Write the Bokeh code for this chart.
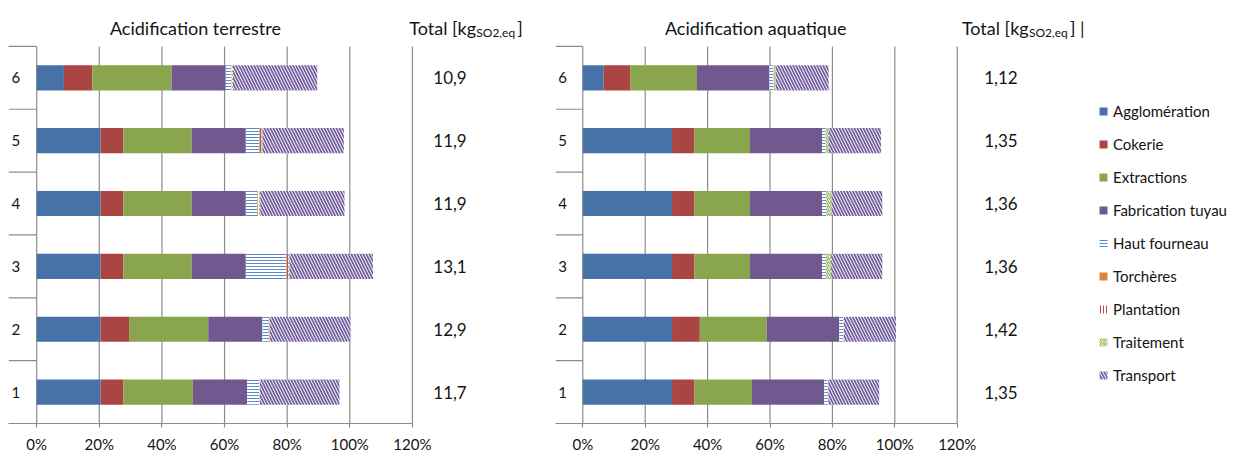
import numpy as np
from bokeh.plotting import figure
from bokeh.models import Range1d, FixedTicker, Legend, LegendItem, ColumnDataSource
from bokeh.layouts import row
from bokeh.embed import file_html
from bokeh.resources import INLINE
from bokeh.core.properties import value

# ---------------- data ----------------
categories = ["1", "2", "3", "4", "5", "6"]
series = ["Agglomération", "Cokerie", "Extractions", "Fabrication tuyau",
          "Haut fourneau", "Torchères", "Plantation", "Traitement", "Transport"]

# Acidification terrestre (% share, categories 1..6)
terr_agglomeration = [20.4, 20.4, 20.4, 20.4, 20.4, 8.7]
terr_cokerie       = [7.3, 9.1, 7.3, 7.3, 7.3, 9.1]
terr_extractions   = [22.2, 25.3, 21.8, 21.8, 21.8, 25.3]
terr_fabrication   = [17.3, 17.3, 17.3, 17.3, 17.3, 17.3]
terr_haut_fourneau = [3.8, 2.0, 12.9, 3.6, 4.3, 1.7]
terr_torcheres     = [0.1, 0.1, 0.2, 0.2, 0.2, 0.1]
terr_plantation    = [0.1, 0.1, 0.4, 0.4, 0.4, 0.1]
terr_traitement    = [0.1, 0.1, 0.4, 0.4, 0.4, 0.4]
terr_transport     = [25.4, 25.8, 26.7, 26.9, 26.0, 26.9]
terr_totals = ["11,7", "12,9", "13,1", "11,9", "11,9", "10,9"]

# Acidification aquatique
aqua_agglomeration = [28.6, 28.6, 28.6, 28.6, 28.6, 6.7]
aqua_cokerie       = [7.2, 8.9, 7.2, 7.2, 7.2, 8.6]
aqua_extractions   = [18.4, 21.4, 17.8, 17.8, 17.8, 21.3]
aqua_fabrication   = [23.2, 23.3, 23.1, 23.1, 23.1, 23.2]
aqua_haut_fourneau = [1.1, 1.2, 1.2, 1.3, 1.1, 1.2]
aqua_torcheres     = [0.05, 0.1, 0.05, 0.05, 0.05, 0.05]
aqua_plantation    = [0.05, 0.1, 0.05, 0.05, 0.05, 0.05]
aqua_traitement    = [0.1, 0.1, 1.6, 1.6, 1.0, 0.7]
aqua_transport     = [16.3, 16.7, 16.4, 16.3, 16.7, 17.0]
aqua_totals = ["1,35", "1,42", "1,36", "1,36", "1,35", "1,12"]

x_ticks = [0, 20, 40, 60, 80, 100, 120]
x_tick_labels = ["0%", "20%", "40%", "60%", "80%", "100%", "120%"]

titles = ["Acidification terrestre", "Acidification aquatique"]
total_header = ["Total [kg", "SO2,eq", "]"]

# ---------------- styles ----------------
FONT = "Lato"
GRID = "#8c8c8c"
TXT = "#141414"
styles = [
    dict(fill_color="#4672A8"),
    dict(fill_color="#A94543"),
    dict(fill_color="#89A54E"),
    dict(fill_color="#71588F"),
    dict(fill_color="white", hatch_pattern="horizontal_line", hatch_color="#5B8BCB", hatch_scale=3, hatch_weight=1),
    dict(fill_color="#DB843D"),
    dict(fill_color="white", hatch_pattern="vertical_line", hatch_color="#C0504D", hatch_scale=3, hatch_weight=1),
    dict(fill_color="white", hatch_pattern="right_diagonal_line", hatch_color="#9BBB59", hatch_scale=4, hatch_weight=1.3),
    dict(fill_color="white", hatch_pattern="left_diagonal_line", hatch_color="#7560A0", hatch_scale=6, hatch_weight=1.8),
]

cat_pos = np.arange(1, len(categories) + 1, dtype=float)
boundaries = np.arange(0.5, len(categories) + 1, 1.0)
Y_TOP = 7.23      # top of canvas in category units
Y_HEAD = 6.8      # row of the headers


def make_chart(data, totals, title, width, border_left, x_start, x_end,
               title_x, total_x, header_x, sub_dx, close_dx, close_text, legend=False):
    p = figure(width=width, height=458, output_backend="svg", toolbar_location=None,
               x_range=Range1d(x_start, x_end), y_range=Range1d(0.5, Y_TOP),
               y_axis_location=None, min_border_left=border_left,
               min_border_right=0, min_border_top=0, min_border_bottom=35)
    p.outline_line_color = None
    p.background_fill_color = "white"
    p.grid.visible = False
    ax = p.xaxis[0]
    ax.ticker = FixedTicker(ticks=x_ticks)
    ax.bounds = (x_start, 120)
    ax.major_label_overrides = {t: l for t, l in zip(x_ticks, x_tick_labels)}
    ax.axis_line_color = GRID
    ax.axis_line_width = 1.2
    ax.major_tick_line_color = GRID
    ax.major_tick_line_width = 1.2
    ax.major_tick_out = 4
    ax.major_tick_in = 0
    ax.minor_tick_line_color = None
    ax.major_label_text_font = FONT
    ax.major_label_text_font_size = "15px"
    ax.major_label_text_color = TXT
    ax.major_label_standoff = 7

    # vertical gridlines (value axis) limited to the plot band
    p.segment(x0=x_ticks, x1=x_ticks, y0=[boundaries[0]] * len(x_ticks),
              y1=[boundaries[-1]] * len(x_ticks), line_color=GRID, line_width=1.2)
    # category boundary ticks
    p.segment(x0=[x_start] * len(boundaries), x1=[0] * len(boundaries),
              y0=boundaries, y1=boundaries, line_color=GRID, line_width=1.2)

    left = np.zeros(len(categories))
    renderers = []
    for name, vals, st in zip(series, data, styles):
        vals = np.array(vals, dtype=float)
        src = ColumnDataSource(dict(y=cat_pos, left=left.copy(), right=left + vals))
        r = p.hbar(y="y", left="left", right="right", height=0.4, source=src,
                   line_color=None, **st)
        renderers.append((name, r))
        left = left + vals

    txt = dict(text_font=value(FONT), text_color=TXT, text_baseline="middle")
    # category labels
    p.text(x=[x_start * 0.74] * len(categories), y=cat_pos, text=categories,
           text_font_size="15px", text_align="center", **txt)
    # totals column
    p.text(x=[total_x] * len(categories), y=cat_pos, text=totals,
           text_font_size="17px", text_align="center", **txt)
    # titles
    p.text(x=[title_x], y=[Y_HEAD], text=[title], text_font_size="18px",
           text_align="center", **txt)
    p.text(x=[header_x], y=[Y_HEAD], text=[total_header[0]], text_font_size="18px",
           text_align="left", **txt)
    p.text(x=[header_x], y=[Y_HEAD], x_offset=sub_dx, y_offset=5, text=[total_header[1]],
           text_font_size="12px", text_align="left", **txt)
    p.text(x=[header_x], y=[Y_HEAD], x_offset=close_dx, text=[close_text],
           text_font_size="18px", text_align="left", **txt)

    if legend:
        items = [LegendItem(label=n, renderers=[r]) for n, r in renderers]
        lg = Legend(items=items, location=(543, 38), padding=0, margin=0, spacing=13,
                    label_height=20, glyph_height=10, glyph_width=10, label_standoff=5,
                    border_line_color=None, background_fill_alpha=0,
                    label_text_font=FONT, label_text_font_size="15px", label_text_color=TXT)
        p.add_layout(lg)
    return p


terr = [terr_agglomeration, terr_cokerie, terr_extractions, terr_fabrication, terr_haut_fourneau,
        terr_torcheres, terr_plantation, terr_traitement, terr_transport]
aqua = [aqua_agglomeration, aqua_cokerie, aqua_extractions, aqua_fabrication, aqua_haut_fourneau,
        aqua_torcheres, aqua_plantation, aqua_traitement, aqua_transport]

p1 = make_chart(terr, terr_totals, titles[0], width=545, border_left=8, x_start=-9, x_end=162.5,
                title_x=50.7, total_x=132, header_x=119, sub_dx=67, close_dx=108,
                close_text=total_header[2])
p2 = make_chart(aqua, aqua_totals, titles[1], width=700, border_left=10, x_start=-8.75, x_end=212.4,
                title_x=55.4, total_x=134, header_x=121.5, sub_dx=67, close_dx=108,
                close_text=total_header[2] + " |", legend=True)

layout = row(p1, p2)
open("out.html", "w").write(file_html(layout, INLINE))
